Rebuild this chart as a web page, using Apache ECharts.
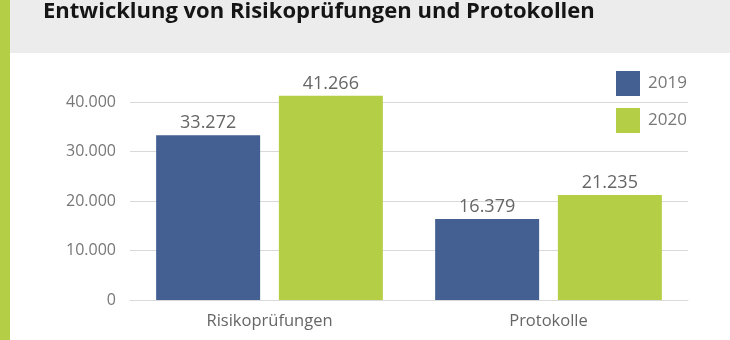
<!DOCTYPE html>
<html>
<head>
<meta charset="utf-8">
<script src="https://cdn.jsdelivr.net/npm/echarts@6/dist/echarts.min.js"></script>
<style>
  html, body { margin: 0; padding: 0; background: #ffffff; }
  #chart { width: 730px; height: 340px; }
</style>
</head>
<body>
<div id="chart"></div>
<script>
// Chart data
const categories = ['Risikoprüfungen', 'Protokolle'];
const years = ['2019', '2020'];
const values2019 = [33272, 16379];
const values2020 = [41266, 21235];
const yTicks = [0, 10000, 20000, 30000, 40000];

const BLUE = '#445f92';
const GREEN = '#b4cf45';
const FONT = '"Open Sans", "Noto Sans", sans-serif';

// German thousands separator
function fmt(v) {
  return String(v).replace(/\B(?=(\d{3})+(?!\d))/g, '.');
}

const chart = echarts.init(document.getElementById('chart'), null, { renderer: 'canvas' });

function barSeries(name, data, color) {
  return {
    name: name,
    type: 'bar',
    data: data,
    clip: false,
    barWidth: 104,
    barGap: '18%',
    itemStyle: { color: color },
    label: {
      show: true,
      position: 'top',
      distance: 3,
      color: '#666666',
      fontFamily: FONT,
      fontSize: 18,
      formatter: p => fmt(p.value)
    }
  };
}

chart.setOption({
  animation: false,
  backgroundColor: '#ffffff',
  textStyle: { fontFamily: FONT },
  graphic: [
    { type: 'rect', left: 0, top: 0, shape: { width: 10, height: 340 }, style: { fill: '#b4cf45' }, z: -1 },
    { type: 'rect', left: 10, top: 0, shape: { width: 720, height: 53 }, style: { fill: '#ececec' }, z: -1 }
  ],
  title: {
    text: 'Entwicklung von Risikoprüfungen und Protokollen',
    left: 43,
    top: 1,
    padding: 0,
    textStyle: { fontFamily: FONT, fontWeight: 'bold', fontSize: 22, color: '#151515' }
  },
  legend: {
    data: years,
    orient: 'vertical',
    left: 616,
    top: 71,
    padding: 0,
    itemWidth: 24,
    itemHeight: 25,
    itemGap: 12,
    icon: 'rect',
    textStyle: { fontFamily: FONT, fontSize: 17, color: '#777777', padding: [0, 0, 0, 3] }
  },
  grid: { left: 130, right: 42, top: 102, bottom: 40 },
  xAxis: {
    type: 'category',
    data: categories,
    axisLine: { show: true, lineStyle: { color: '#d9d9d9' } },
    axisTick: { show: false },
    axisLabel: { fontFamily: FONT, fontSize: 16.5, color: '#666666', margin: 13 }
  },
  yAxis: {
    type: 'value',
    min: yTicks[0],
    max: yTicks[yTicks.length - 1],
    interval: yTicks[1] - yTicks[0],
    axisLine: { show: false },
    axisTick: { show: false },
    splitLine: { lineStyle: { color: '#d9d9d9' } },
    axisLabel: { fontFamily: FONT, fontSize: 16, color: '#777777', margin: 14, formatter: v => fmt(v) }
  },
  series: [
    barSeries(years[0], values2019, BLUE),
    barSeries(years[1], values2020, GREEN)
  ]
});
</script>
</body>
</html>
